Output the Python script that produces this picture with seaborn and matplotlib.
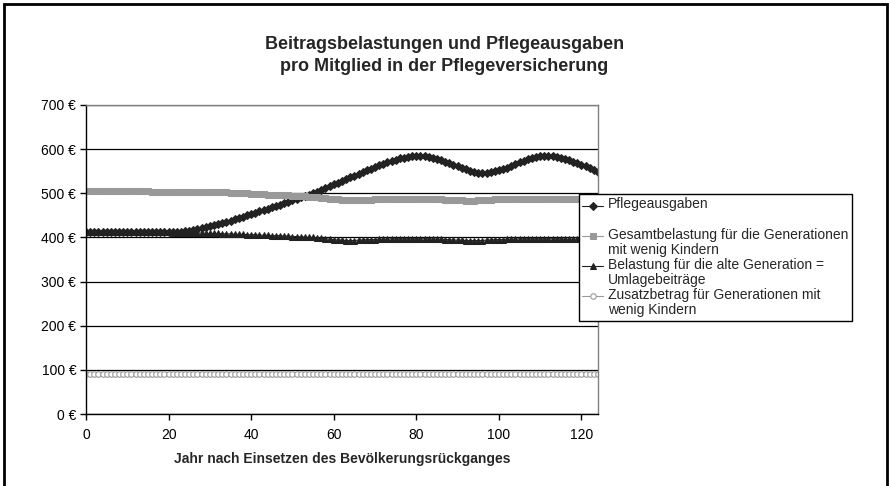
"""
Beitragsbelastungen und Pflegeausgaben pro Mitglied in der Pflegeversicherung
"""

import numpy as np
import pandas as pd
import matplotlib
matplotlib.use("Agg")
import matplotlib.pyplot as plt
from matplotlib.legend_handler import HandlerLine2D
from matplotlib.patches import Rectangle
import seaborn as sns

# ==========================================
# DATA (one per year 0..124)
# ==========================================
jahre = list(range(125))

pflegeausgaben = [
    413, 413, 413, 413, 413, 413, 413, 413, 413, 413,
    413, 413, 413, 413, 413, 413, 413, 413, 413, 413,
    413, 413, 413, 413, 414, 415, 417, 419, 421, 423,
    425, 428, 430, 433, 435, 438, 441, 444, 447, 450,
    453, 456, 459, 462, 465, 468, 471, 474, 478, 481,
    485, 488, 491, 494, 497, 500, 504, 508, 512, 516,
    520, 524, 528, 532, 536, 540, 544, 548, 552, 556,
    560, 564, 567, 570, 573, 576, 579, 581, 583, 584,
    585, 585, 584, 583, 581, 578, 575, 572, 568, 565,
    561, 557, 554, 551, 549, 547, 547, 547, 548, 550,
    552, 555, 558, 562, 566, 570, 574, 577, 580, 582,
    584, 585, 585, 584, 583, 581, 578, 575, 572, 568,
    565, 561, 557, 553, 549,
]

gesamtbelastung = [
    505, 505, 505, 505, 505, 505, 505, 505, 505, 505,
    505, 505, 505, 505, 505, 505, 504, 504, 504, 504,
    504, 504, 504, 504, 504, 504, 503, 503, 503, 503,
    503, 502, 502, 502, 502, 501, 501, 500, 500, 500,
    499, 499, 498, 498, 497, 497, 496, 496, 495, 495,
    494, 494, 493, 493, 492, 492, 491, 490, 489, 488,
    487, 486, 485, 485, 484, 484, 484, 485, 485, 485,
    486, 486, 486, 487, 487, 487, 487, 488, 488, 488,
    488, 488, 487, 487, 487, 486, 486, 485, 485, 484,
    484, 484, 483, 483, 483, 484, 484, 485, 485, 486,
    486, 486, 487, 487, 487, 488, 488, 488, 488, 488,
    488, 488, 488, 488, 488, 488, 487, 487, 487, 487,
    487, 487, 486, 486, 486,
]

umlagebeitraege = [
    413, 413, 413, 413, 413, 413, 413, 413, 413, 413,
    413, 413, 413, 412, 412, 412, 412, 412, 412, 412,
    412, 411, 411, 411, 411, 410, 410, 410, 410, 409,
    409, 409, 409, 408, 408, 408, 407, 407, 407, 406,
    406, 406, 405, 405, 405, 404, 404, 404, 403, 403,
    402, 402, 401, 401, 400, 400, 399, 398, 397, 396,
    395, 394, 394, 393, 393, 393, 394, 394, 395, 395,
    395, 396, 396, 396, 397, 397, 397, 397, 397, 397,
    397, 397, 397, 397, 396, 396, 396, 395, 395, 394,
    394, 394, 393, 393, 393, 393, 393, 394, 394, 395,
    395, 395, 396, 396, 396, 397, 397, 397, 397, 397,
    397, 397, 397, 397, 397, 397, 396, 396, 396, 396,
    396, 395, 395, 395, 395,
]

zusatzbetrag = [
    90, 90, 90, 90, 90, 90, 90, 90, 90, 90,
    90, 90, 90, 90, 90, 90, 90, 90, 90, 90,
    90, 90, 90, 90, 90, 90, 90, 90, 90, 90,
    90, 90, 90, 90, 90, 90, 90, 90, 90, 90,
    90, 90, 90, 90, 90, 90, 90, 90, 90, 90,
    90, 90, 90, 90, 90, 90, 90, 90, 90, 90,
    90, 90, 90, 90, 90, 90, 90, 90, 90, 90,
    90, 90, 90, 90, 90, 90, 90, 90, 90, 90,
    90, 90, 90, 90, 90, 90, 90, 90, 90, 90,
    90, 90, 90, 90, 90, 90, 90, 90, 90, 90,
    90, 90, 90, 90, 90, 90, 90, 90, 90, 90,
    90, 90, 90, 90, 90, 90, 90, 90, 90, 90,
    90, 90, 90, 90, 90,
]

labels = [
    "Pflegeausgaben\n",
    "Gesamtbelastung für die Generationen\nmit wenig Kindern",
    "Belastung für die alte Generation =\nUmlagebeiträge",
    "Zusatzbetrag für Generationen mit\nwenig Kindern",
]

y_ticks = [0, 100, 200, 300, 400, 500, 600, 700]
x_ticks = [0, 20, 40, 60, 80, 100, 120]

df = pd.DataFrame({
    "Jahr": jahre,
    "Pflegeausgaben": pflegeausgaben,
    "Gesamtbelastung": gesamtbelastung,
    "Umlagebeitraege": umlagebeitraege,
    "Zusatzbetrag": zusatzbetrag,
})

# ==========================================
# STYLE
# ==========================================
sns.set_theme(style="white")
plt.rcParams["font.family"] = ["Liberation Sans", "DejaVu Sans"]

fig = plt.figure(figsize=(8.89, 4.86), dpi=100)
ax = fig.add_axes([86 / 889, 1 - 414 / 486, (598 - 86) / 889, (414 - 105) / 486])

styles = [
    ("Pflegeausgaben", dict(color="#222222", marker="D", markersize=3.8,
                            markerfacecolor="#222222", markeredgecolor="#222222")),
    ("Gesamtbelastung", dict(color="#999999", marker="s", markersize=4.4,
                             markerfacecolor="#999999", markeredgecolor="#999999")),
    ("Umlagebeitraege", dict(color="#222222", marker="^", markersize=4.0,
                             markerfacecolor="#222222", markeredgecolor="#222222")),
    ("Zusatzbetrag", dict(color="#999999", marker="o", markersize=4.0,
                          markerfacecolor="white", markeredgecolor="#999999",
                          markeredgewidth=0.8)),
]

for (col, kw), lab in zip(styles, labels):
    sns.lineplot(data=df, x="Jahr", y=col, ax=ax, label=lab, linewidth=1.0, **kw)

# axes + grid in the Excel look
ax.set_xlim(0, 124)
ax.set_ylim(0, 700)
ax.set_yticks(y_ticks)
ax.set_yticklabels([f"{v} €" for v in y_ticks])
ax.set_xticks(x_ticks)
ax.yaxis.grid(True, color="black", linewidth=0.9)
ax.xaxis.grid(False)
ax.set_axisbelow(True)
for side in ["top", "right"]:
    ax.spines[side].set_color("#808080")
    ax.spines[side].set_linewidth(1.0)
for side in ["left", "bottom"]:
    ax.spines[side].set_color("black")
    ax.spines[side].set_linewidth(1.0)
ax.tick_params(axis="both", direction="out", length=4, width=1, color="black",
               labelsize=10, labelcolor="black", left=True, bottom=True)
ax.tick_params(axis="x", pad=6)
ax.tick_params(axis="y", pad=3)
ax.set_ylabel("")
ax.set_xlabel("Jahr nach Einsetzen des Bevölkerungsrückganges",
              fontsize=10, fontweight="bold", labelpad=7)

fig.suptitle("Beitragsbelastungen und Pflegeausgaben\npro Mitglied in der Pflegeversicherung",
             fontsize=13, fontweight="bold", y=0.925, linespacing=1.35)


# legend: handle sits next to the first text line, like in Excel
class FirstLineHandler(HandlerLine2D):
    def create_artists(self, legend, orig_handle, xdescent, ydescent,
                       width, height, fontsize, trans):
        arts = super().create_artists(legend, orig_handle, xdescent, ydescent,
                                      width, height, fontsize, trans)
        for a in arts:
            a.set_ydata(np.asarray(a.get_ydata()) + 0.5 * fontsize)
        return arts


handles, hlabels = ax.get_legend_handles_labels()
for h in handles:
    h.set_linewidth(0.8)
leg = ax.legend(handles, hlabels, loc="upper left",
                bbox_to_anchor=(579 / 889, 1 - 194 / 486), bbox_transform=fig.transFigure,
                fontsize=10, frameon=True, fancybox=False, shadow=False,
                borderpad=0.25, labelspacing=0.1, handlelength=1.5, handletextpad=0.35,
                borderaxespad=0, markerscale=1.0,
                handler_map={h: FirstLineHandler(numpoints=1) for h in handles})
for t in leg.get_texts():
    t.set_linespacing(1.08)
leg.get_frame().set_edgecolor("black")
leg.get_frame().set_linewidth(1.0)
leg.get_frame().set_facecolor("white")
leg.get_frame().set_alpha(1)

# outer chart border
fig.patches.append(Rectangle((4 / 889, -0.02), 883 / 889, 1 - 4 / 486 + 0.02,
                             transform=fig.transFigure, fill=False,
                             edgecolor="black", linewidth=2.0))

plt.savefig("out.png", dpi=100, facecolor="white")
